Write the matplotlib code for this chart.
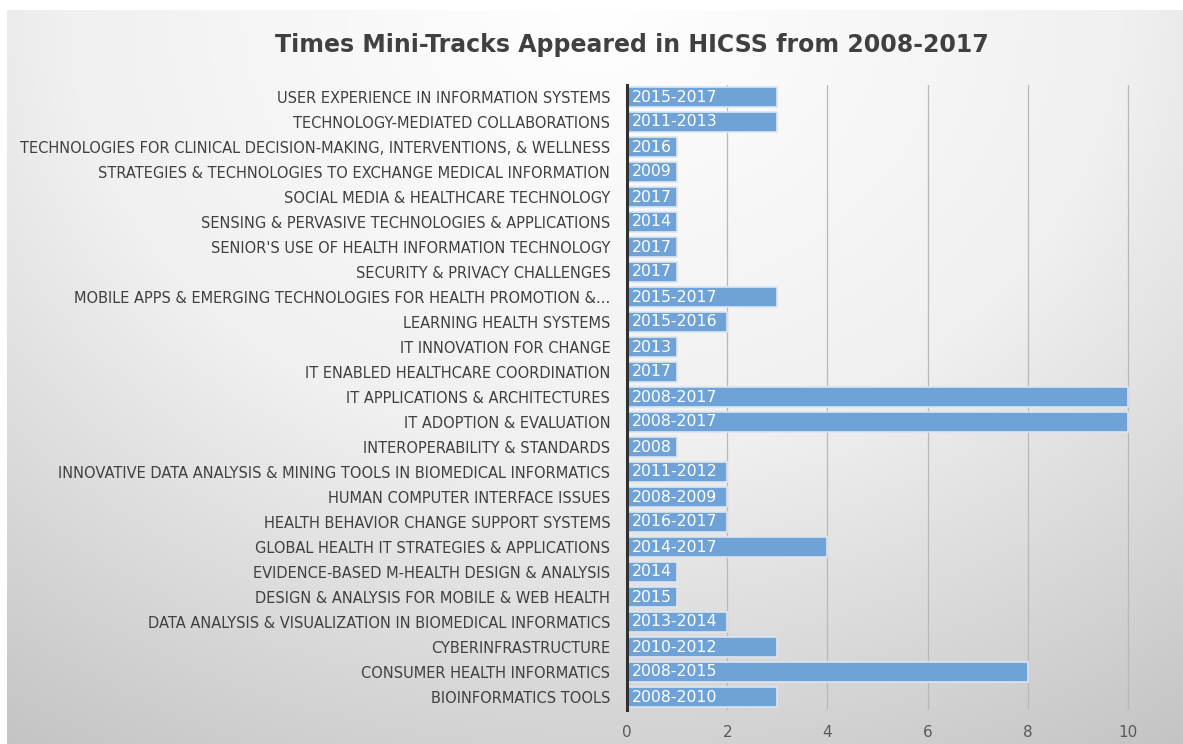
"""Horizontal bar chart of HICSS mini-track appearances."""
import numpy as np
import matplotlib.pyplot as plt
from matplotlib.colors import LinearSegmentedColormap

# Categories listed top to bottom as in the chart.
tracks = [
    "USER EXPERIENCE IN INFORMATION SYSTEMS",
    "TECHNOLOGY-MEDIATED COLLABORATIONS",
    "TECHNOLOGIES FOR CLINICAL DECISION-MAKING, INTERVENTIONS, & WELLNESS",
    "STRATEGIES & TECHNOLOGIES TO EXCHANGE MEDICAL INFORMATION",
    "SOCIAL MEDIA & HEALTHCARE TECHNOLOGY",
    "SENSING & PERVASIVE TECHNOLOGIES & APPLICATIONS",
    "SENIOR'S USE OF HEALTH INFORMATION TECHNOLOGY",
    "SECURITY & PRIVACY CHALLENGES",
    "MOBILE APPS & EMERGING TECHNOLOGIES FOR HEALTH PROMOTION &...",
    "LEARNING HEALTH SYSTEMS",
    "IT INNOVATION FOR CHANGE",
    "IT ENABLED HEALTHCARE COORDINATION",
    "IT APPLICATIONS & ARCHITECTURES",
    "IT ADOPTION & EVALUATION",
    "INTEROPERABILITY & STANDARDS",
    "INNOVATIVE DATA ANALYSIS & MINING TOOLS IN BIOMEDICAL INFORMATICS",
    "HUMAN COMPUTER INTERFACE ISSUES",
    "HEALTH BEHAVIOR CHANGE SUPPORT SYSTEMS",
    "GLOBAL HEALTH IT STRATEGIES & APPLICATIONS",
    "EVIDENCE-BASED M-HEALTH DESIGN & ANALYSIS",
    "DESIGN & ANALYSIS FOR MOBILE & WEB HEALTH",
    "DATA ANALYSIS & VISUALIZATION IN BIOMEDICAL INFORMATICS",
    "CYBERINFRASTRUCTURE",
    "CONSUMER HEALTH INFORMATICS",
    "BIOINFORMATICS TOOLS",
]
times = [3, 3, 1, 1, 1, 1, 1, 1, 3, 2, 1, 1, 10, 10, 1, 2, 2, 2, 4, 1, 1, 2,
         3, 8, 3]
years = ["2015-2017", "2011-2013", "2016", "2009", "2017", "2014", "2017",
         "2017", "2015-2017", "2015-2016", "2013", "2017", "2008-2017",
         "2008-2017", "2008", "2011-2012", "2008-2009", "2016-2017",
         "2014-2017", "2014", "2015", "2013-2014", "2010-2012", "2008-2015",
         "2008-2010"]
xticks = [0, 2, 4, 6, 8, 10]

W, H = 1183, 744
fig = plt.figure(figsize=(W / 100, H / 100), dpi=100)
fig.patch.set_facecolor('white')

# Radial gray gradient background (light at top center, darker at corners).
bg = fig.add_axes([7 / W, 0, 1 - 7 / W, 1 - 10 / H])
yy, xx = np.mgrid[0:1:300j, 0:1:500j]
dist = np.sqrt(((xx - 0.5) * 1.0) ** 2 + ((yy - 0.0) * 0.75) ** 2)
dist = dist / dist.max()
cmap = LinearSegmentedColormap.from_list('bg', ['#ffffff', '#f0f0f0',
                                                '#c4c4c4'])
bg.imshow(dist, cmap=cmap, aspect='auto', extent=[0, 1, 1, 0],
          vmin=0, vmax=1)
bg.set_axis_off()

ax = fig.add_axes([627 / W, (H - 709.5) / H, 526 / W, 625 / H])
ax.patch.set_alpha(0)
ypos = np.arange(len(tracks))[::-1]
ax.barh(ypos, times, height=0.82, color='#6fa3d8',
        edgecolor='#dbe6f1', linewidth=1.2, zorder=3)
for y, lab in zip(ypos, years):
    ax.text(0.1, y, lab, color='white', fontsize=11.3, va='center',
            ha='left', zorder=4)

ax.set_xlim(0, 10.5)
ax.set_ylim(-0.5, len(tracks) - 0.5)
ax.set_xticks(xticks)
ax.set_yticks(ypos)
ax.set_yticklabels(tracks, fontsize=10.5, color='#404040')
ax.tick_params(axis='both', length=0)
ax.tick_params(axis='x', pad=11, labelsize=11, labelcolor='#595959')
ax.tick_params(axis='y', pad=12)
ax.grid(axis='x', color='#b8b8b8', linewidth=0.9, zorder=1)
for s in ['top', 'right', 'bottom']:
    ax.spines[s].set_visible(False)
ax.spines['left'].set_color('#303030')
ax.spines['left'].set_linewidth(2.2)
ax.spines['left'].set_zorder(5)

fig.text(632 / W, 1 - 45 / H, 'Times Mini-Tracks Appeared in HICSS from 2008-2017',
         ha='center', va='center', fontsize=17, fontweight='bold',
         color='#404040')

fig.savefig('out.png', dpi=100)
